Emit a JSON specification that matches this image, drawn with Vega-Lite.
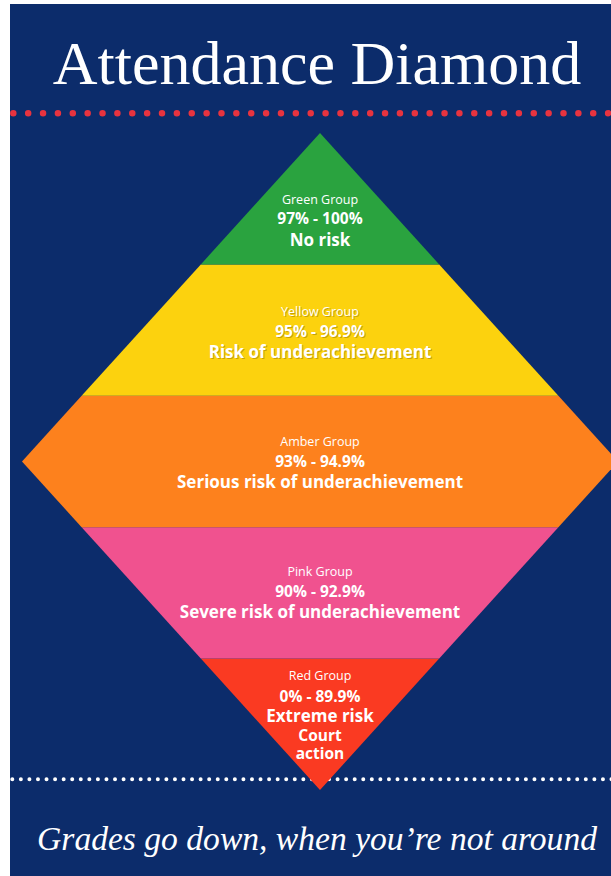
{
  "$schema": "https://vega.github.io/schema/vega-lite/v6.json",
  "width": 601,
  "height": 872,
  "autosize": "none",
  "padding": {"left": 10, "top": 4, "right": 0, "bottom": 0},
  "background": "white",
  "config": {"view": {"fill": "#0c2c6b", "stroke": null}},
  "datasets": {
    "bands": [
      {"band": "Red", "y": 0, "x": 0, "x2": 0},
      {"band": "Red", "y": 1, "x": -0.4, "x2": 0.4},
      {"band": "Pink", "y": 1, "x": -0.4, "x2": 0.4},
      {"band": "Pink", "y": 2, "x": -0.8, "x2": 0.8},
      {"band": "Amber", "y": 2, "x": -0.8, "x2": 0.8},
      {"band": "Amber", "y": 2.5, "x": -1, "x2": 1},
      {"band": "Amber", "y": 3, "x": -0.8, "x2": 0.8},
      {"band": "Yellow", "y": 3, "x": -0.8, "x2": 0.8},
      {"band": "Yellow", "y": 4, "x": -0.4, "x2": 0.4},
      {"band": "Green", "y": 4, "x": -0.4, "x2": 0.4},
      {"band": "Green", "y": 5, "x": 0, "x2": 0}
    ],
    "labels": [
      {"band": "Green", "kind": "group", "text": "Green Group", "x": 0, "y": 4.49},
      {"band": "Green", "kind": "range", "text": "97% - 100%", "x": 0, "y": 4.345},
      {"band": "Green", "kind": "desc", "text": "No risk", "x": 0, "y": 4.18},
      {"band": "Yellow", "kind": "group", "text": "Yellow Group", "x": 0, "y": 3.638},
      {"band": "Yellow", "kind": "range", "text": "95% - 96.9%", "x": 0, "y": 3.486},
      {"band": "Yellow", "kind": "desc", "text": "Risk of underachievement", "x": 0, "y": 3.326},
      {"band": "Amber", "kind": "group", "text": "Amber Group", "x": 0, "y": 2.648},
      {"band": "Amber", "kind": "range", "text": "93% - 94.9%", "x": 0, "y": 2.496},
      {"band": "Amber", "kind": "desc", "text": "Serious risk of underachievement", "x": 0, "y": 2.336},
      {"band": "Pink", "kind": "group", "text": "Pink Group", "x": 0, "y": 1.659},
      {"band": "Pink", "kind": "range", "text": "90% - 92.9%", "x": 0, "y": 1.507},
      {"band": "Pink", "kind": "desc", "text": "Severe risk of underachievement", "x": 0, "y": 1.347},
      {"band": "Red", "kind": "group", "text": "Red Group", "x": 0, "y": 0.868},
      {"band": "Red", "kind": "range", "text": "0% - 89.9%", "x": 0, "y": 0.708},
      {"band": "Red", "kind": "desc", "text": "Extreme risk", "x": 0, "y": 0.555},
      {"band": "Red", "kind": "desc2", "text": "Court", "x": 0, "y": 0.408},
      {"band": "Red", "kind": "desc2", "text": "action", "x": 0, "y": 0.272}
    ],
    "dots": [
      {"line": "top", "x": -1.0292, "x2": 0.98, "y": 5.15}
    ],
    "dots2": [
      {"line": "bottom", "x": -1.0326, "x2": 0.98, "y": 0.0814}
    ],
    "headings": [
      {"kind": "title", "text": "Attendance Diamond", "x": -0.01, "y": 5.37},
      {"kind": "caption", "text": "Grades go down, when you’re not around", "x": -0.01, "y": -0.457}
    ]
  },
  "encoding": {
    "x": {"field": "x", "type": "quantitative", "scale": {"domain": [-1.0403, 0.9765], "nice": false, "zero": false}, "axis": null},
    "y": {"field": "y", "type": "quantitative", "scale": {"domain": [-0.6545, 5.9817], "nice": false, "zero": false}, "axis": null}
  },
  "layer": [
    {
      "data": {"name": "dots"},
      "mark": {"type": "rule", "color": "#e8333f", "strokeWidth": 6.5, "strokeCap": "round", "strokeDash": [0, 14.87]},
      "encoding": {"x2": {"field": "x2"}}
    },
    {
      "data": {"name": "dots2"},
      "mark": {"type": "rule", "color": "#ffffff", "strokeWidth": 4, "strokeCap": "round", "strokeDash": [0, 8.56]},
      "encoding": {"x2": {"field": "x2"}}
    },
    {
      "data": {"name": "bands"},
      "mark": {"type": "area", "orient": "horizontal", "clip": true},
      "encoding": {
        "x2": {"field": "x2"},
        "color": {
          "field": "band", "type": "nominal", "legend": null,
          "scale": {"domain": ["Green", "Yellow", "Amber", "Pink", "Red"], "range": ["#2aa33f", "#fcd20e", "#fd811d", "#f0528f", "#fa3a22"]}
        }
      }
    },
    {
      "data": {"name": "labels"},
      "transform": [{"filter": "datum.band === 'Yellow' && datum.kind === 'group'"}],
      "mark": {"type": "text", "font": "Open Sans", "fontWeight": 500, "fontSize": 12.5, "color": "#8a6a00", "opacity": 0.45, "dx": 1, "dy": 1.5, "baseline": "middle"},
      "encoding": {"text": {"field": "text"}}
    },
    {
      "data": {"name": "labels"},
      "transform": [{"filter": "datum.band === 'Yellow' && datum.kind === 'range'"}],
      "mark": {"type": "text", "font": "Open Sans", "fontWeight": 700, "fontSize": 15.5, "color": "#8a6a00", "opacity": 0.45, "dx": 1, "dy": 1.5, "baseline": "middle"},
      "encoding": {"text": {"field": "text"}}
    },
    {
      "data": {"name": "labels"},
      "transform": [{"filter": "datum.band === 'Yellow' && datum.kind === 'desc'"}],
      "mark": {"type": "text", "font": "Open Sans", "fontWeight": 700, "fontSize": 17, "color": "#8a6a00", "opacity": 0.45, "dx": 1, "dy": 1.5, "baseline": "middle"},
      "encoding": {"text": {"field": "text"}}
    },
    {
      "data": {"name": "labels"},
      "transform": [{"filter": "datum.kind === 'group'"}],
      "mark": {"type": "text", "font": "Open Sans", "fontWeight": 500, "fontSize": 12.5, "color": "white", "baseline": "middle"},
      "encoding": {"text": {"field": "text"}}
    },
    {
      "data": {"name": "labels"},
      "transform": [{"filter": "datum.kind === 'range'"}],
      "mark": {"type": "text", "font": "Open Sans", "fontWeight": 700, "fontSize": 15.5, "color": "white", "baseline": "middle"},
      "encoding": {"text": {"field": "text"}}
    },
    {
      "data": {"name": "labels"},
      "transform": [{"filter": "datum.kind === 'desc'"}],
      "mark": {"type": "text", "font": "Open Sans", "fontWeight": 700, "fontSize": 17, "color": "white", "baseline": "middle"},
      "encoding": {"text": {"field": "text"}}
    },
    {
      "data": {"name": "labels"},
      "transform": [{"filter": "datum.kind === 'desc2'"}],
      "mark": {"type": "text", "font": "Open Sans", "fontWeight": 700, "fontSize": 15.5, "color": "white", "baseline": "middle"},
      "encoding": {"text": {"field": "text"}}
    },
    {
      "data": {"name": "headings"},
      "transform": [{"filter": "datum.kind === 'title'"}],
      "mark": {"type": "text", "font": "Liberation Serif", "fontSize": 62, "color": "white", "baseline": "alphabetic"},
      "encoding": {"text": {"field": "text"}}
    },
    {
      "data": {"name": "headings"},
      "transform": [{"filter": "datum.kind === 'caption'"}],
      "mark": {"type": "text", "font": "Liberation Serif", "fontStyle": "italic", "fontSize": 33.6, "color": "white", "baseline": "alphabetic"},
      "encoding": {"text": {"field": "text"}}
    }
  ]
}
